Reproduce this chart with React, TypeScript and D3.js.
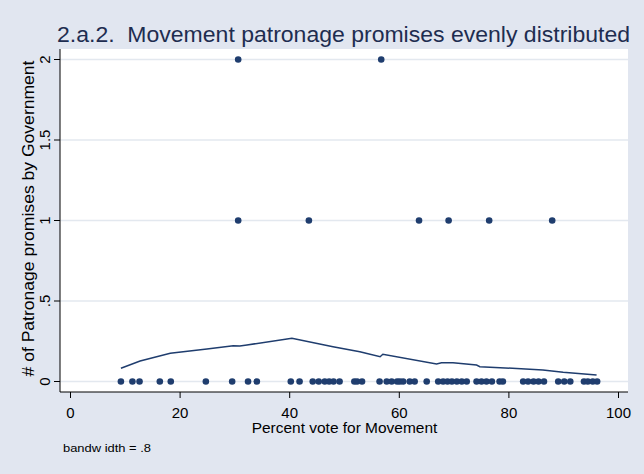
import React from "react";
import * as d3 from "d3";

// Percent vote for Movement, grouped by number of patronage promises
const votesZero: number[] = [
  9.2, 11.3, 12.6, 16.3, 18.3, 24.7, 29.5, 32.4, 34.0, 40.2, 41.8, 44.2, 45.3,
  46.4, 47.2, 48.0, 49.1, 51.8, 52.3, 53.2, 56.4, 57.7, 58.6, 59.6, 60.1, 60.7,
  61.9, 62.8, 65.0, 67.1, 68.0, 68.8, 69.6, 70.5, 71.4, 72.3, 74.1, 75.0, 75.9,
  76.9, 78.3, 78.9, 82.6, 83.5, 84.5, 85.4, 86.4, 89.0, 90.1, 91.2, 93.7, 94.4,
  95.3, 96.1,
];
const votesOne: number[] = [30.6, 43.5, 63.6, 69.0, 76.4, 87.9];
const votesTwo: number[] = [30.6, 56.7];

// Lowess smooth (bandwidth .8)
const lowessX: number[] = [
  9.2, 12.7, 18.2, 24.9, 29.7, 30.9, 32.2, 40.4, 47.9, 52.8, 56.5, 57.0, 66.8,
  67.7, 69.8, 74.1, 74.7, 78.4, 86.2, 89.9, 96.0,
];
const lowessY: number[] = [
  0.082, 0.127, 0.175, 0.202, 0.222, 0.22, 0.227, 0.268, 0.216, 0.185, 0.154,
  0.169, 0.109, 0.117, 0.117, 0.102, 0.092, 0.086, 0.071, 0.057, 0.04,
];

const xTicks: number[] = [0, 20, 40, 60, 80, 100];
const yTicks: number[] = [0, 0.5, 1, 1.5, 2];
const yTickLabels: string[] = ["0", ".5", "1", "1.5", "2"];

const W = 644;
const H = 474;
const plot = { left: 60, right: 628, top: 49, bottom: 392 };

const BG = "#e1e6f0";
const NAVY = "#1f3d6e";
const FONT = "'Liberation Sans', Arial, sans-serif";

export default function App() {
  const x = d3.scaleLinear().domain([0, 100]).range([70.5, 618.5]);
  const y = d3.scaleLinear().domain([0, 2]).range([381.5, 59.5]);

  const points: { v: number; n: number }[] = [
    ...votesZero.map((v) => ({ v, n: 0 })),
    ...votesOne.map((v) => ({ v, n: 1 })),
    ...votesTwo.map((v) => ({ v, n: 2 })),
  ];

  const line = d3
    .line<number>()
    .x((_, i) => x(lowessX[i]))
    .y((d) => y(d));

  return (
    <svg
      width={W}
      height={H}
      style={{ position: "absolute", left: 0, top: 0 }}
      fontFamily={FONT}
    >
      <rect x={0} y={0} width={W} height={H} fill={BG} />
      <rect
        x={plot.left}
        y={plot.top}
        width={plot.right - plot.left}
        height={plot.bottom - plot.top}
        fill="#ffffff"
      />

      {/* gridlines */}
      {yTicks.map((t) => (
        <line
          key={"g" + t}
          x1={plot.left}
          x2={plot.right}
          y1={y(t)}
          y2={y(t)}
          stroke="#e3e8ef"
          strokeWidth={1.5}
        />
      ))}

      {/* axes */}
      <line x1={plot.left} x2={plot.left} y1={plot.top} y2={plot.bottom} stroke="#000" strokeWidth={1} />
      <line x1={plot.left} x2={plot.right} y1={plot.bottom} y2={plot.bottom} stroke="#000" strokeWidth={1} />

      {yTicks.map((t, i) => (
        <g key={"yt" + t}>
          <line x1={plot.left - 6} x2={plot.left} y1={y(t)} y2={y(t)} stroke="#000" />
          <text
            transform={`translate(${50},${y(t)}) rotate(-90)`}
            textAnchor="middle"
            fontSize={15}
            fill="#000"
          >
            {yTickLabels[i]}
          </text>
        </g>
      ))}

      {xTicks.map((t) => (
        <g key={"xt" + t}>
          <line x1={x(t)} x2={x(t)} y1={plot.bottom} y2={plot.bottom + 6} stroke="#000" />
          <text x={x(t)} y={417.7} textAnchor="middle" fontSize={15} fill="#000">
            {t}
          </text>
        </g>
      ))}

      <text x={251.7} y={433.3} fontSize={15.5} fill="#000" textLength={185.6} lengthAdjust="spacingAndGlyphs">
        Percent vote for Movement
      </text>
      <text
        transform={`translate(${33.5},${218.5}) rotate(-90)`}
        textAnchor="middle"
        fontSize={16}
        fill="#000"
        textLength={316}
        lengthAdjust="spacingAndGlyphs"
      >
        # of Patronage promises by Government
      </text>

      <text
        x={57}
        y={42.3}
        fontSize={22}
        fill="#1e2d50"
        textLength={573}
        lengthAdjust="spacingAndGlyphs"
        style={{ whiteSpace: "pre" }}
      >
        {"2.a.2.  Movement patronage promises evenly distributed"}
      </text>

      <text
        x={63}
        y={452.3}
        fontSize={11}
        fill="#000"
        textLength={88}
        lengthAdjust="spacingAndGlyphs"
        style={{ whiteSpace: "pre" }}
      >
        bandw idth = .8
      </text>

      {/* lowess curve */}
      <path d={line(lowessY) ?? ""} fill="none" stroke={NAVY} strokeWidth={1.5} />

      {/* observations */}
      {points.map((p, i) => (
        <circle key={i} cx={x(p.v)} cy={y(p.n)} r={3.3} fill={NAVY} />
      ))}
    </svg>
  );
}
